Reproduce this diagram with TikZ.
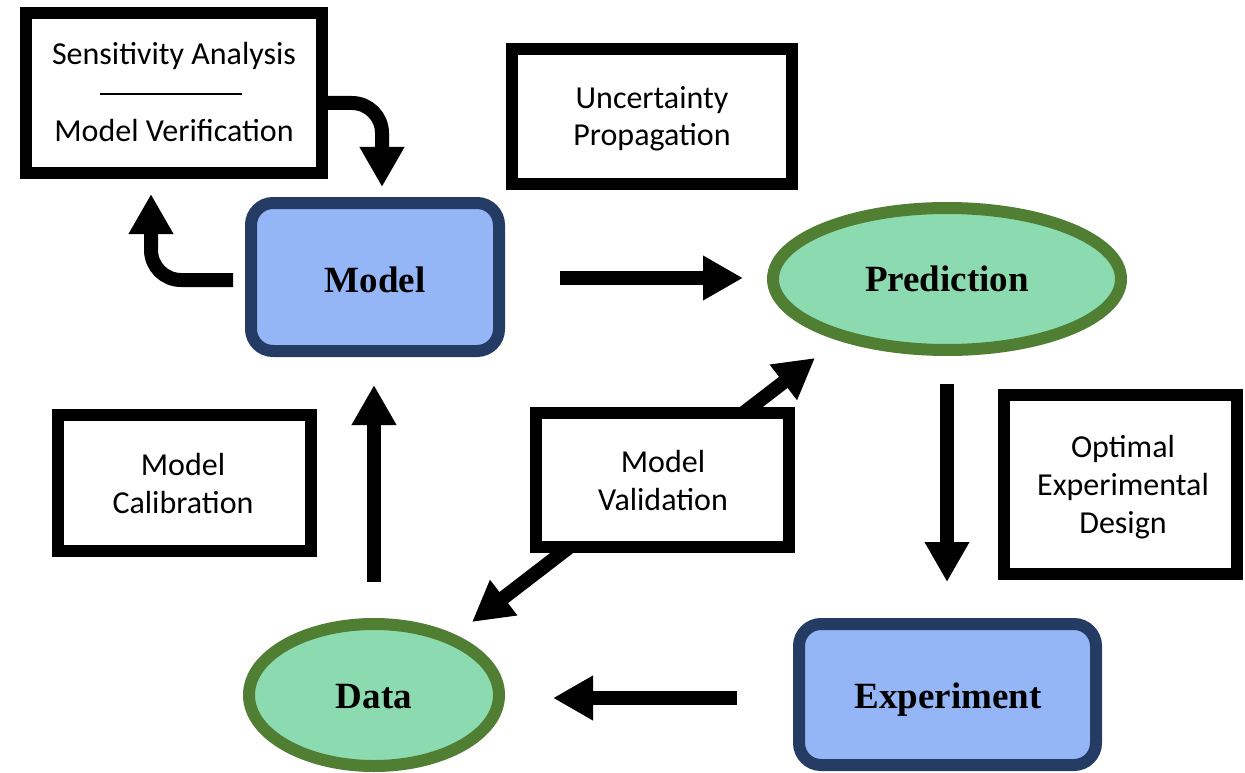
\documentclass[tikz,border=0pt]{standalone}
\usepackage{fontspec}
\setmainfont{Carlito}
\newfontfamily\boldserif{Liberation Serif}
\usetikzlibrary{arrows.meta,shapes.geometric}
\definecolor{bfill}{RGB}{148,182,247}
\definecolor{bdraw}{RGB}{36,59,100}
\definecolor{gfill}{RGB}{140,219,176}
\definecolor{gdraw}{RGB}{80,126,50}
\begin{document}
\begin{tikzpicture}[x=1pt,y=-1pt,
  plainbox/.style={draw=black,line width=12pt,fill=white,inner sep=0pt},
  bluebox/.style={draw=bdraw,fill=bfill,line width=12pt,rounded corners=22pt,inner sep=0pt},
  greenell/.style={ellipse,draw=gdraw,fill=gfill,line width=12pt,inner sep=0pt},
  lbl/.style={anchor=base,font=\fontsize{32}{38}\selectfont,inner sep=0pt},
  blbl/.style={anchor=base,font=\boldserif\bfseries\fontsize{37}{44}\selectfont,inner sep=0pt},
  bigarrow/.style={line width=14pt,-{Triangle[length=40pt,width=42pt]}},
  bigdarrow/.style={line width=14pt,{Triangle[length=40pt,width=42pt]}-{Triangle[length=40pt,width=42pt]}},
]
\useasboundingbox (0,0) rectangle (1245,773);

% coordinates for free arrow ends
\coordinate (a1s) at (560,278);  \coordinate (a1e) at (743,278);
\coordinate (a2s) at (947,384);  \coordinate (a2e) at (947,582);
\coordinate (a3s) at (737,698);  \coordinate (a3e) at (553,698);
\coordinate (a4s) at (374,582);  \coordinate (a4e) at (374,385);
\coordinate (a5s) at (472,622);  \coordinate (a5e) at (815,358);
\coordinate (a6s) at (300,103);  \coordinate (a6e) at (382,187);
\coordinate (a7s) at (233,280);  \coordinate (a7e) at (151,194);

% arrows drawn below boxes
\draw[bigdarrow] (a5s) -- (a5e);
\draw[bigarrow,rounded corners=30pt] (a6s) -| (a6e);
\draw[bigarrow,rounded corners=30pt] (a7s) -| (a7e);
\draw[bigarrow] (a1s) -- (a1e);
\draw[bigarrow] (a2s) -- (a2e);
\draw[bigarrow] (a3s) -- (a3e);
\draw[bigarrow] (a4s) -- (a4e);

% white boxes
\node[plainbox,minimum width=296pt,minimum height=160pt] (sens) at (174,93) {};
\node[lbl] (sens1) at (174,65) {Sensitivity Analysis};
\draw[line width=1.3pt] (100,94) coordinate (r1) -- (242,94) coordinate (r2);
\node[lbl] (sens2) at (174,142) {Model Verification};

\node[plainbox,minimum width=280pt,minimum height=135pt] (unc) at (652,116.5) {};
\node[lbl] (unc1) at (652,109) {Uncertainty};
\node[lbl] (unc2) at (652,146) {Propagation};

\node[plainbox,minimum width=233pt,minimum height=179pt] (opt) at (1120.5,484.5) {};
\node[lbl] (opt1) at (1123,457) {Optimal};
\node[lbl] (opt2) at (1123,495) {Experimental};
\node[lbl] (opt3) at (1123,533) {Design};

\node[plainbox,minimum width=253pt,minimum height=134pt] (val) at (662.5,480) {};
\node[lbl] (val1) at (663,472) {Model};
\node[lbl] (val2) at (663,510) {Validation};

\node[plainbox,minimum width=253pt,minimum height=136pt] (cal) at (184.5,483) {};
\node[lbl] (cal1) at (183,475) {Model};
\node[lbl] (cal2) at (183,513) {Calibration};

% main nodes
\node[bluebox,minimum width=248pt,minimum height=148pt] (model) at (375,277) {};
\node[blbl] (modelt) at (375,292) {Model};

\node[greenell,minimum width=348pt,minimum height=142pt] (pred) at (947,279) {};
\node[blbl] (predt) at (947,291) {Prediction};

\node[bluebox,minimum width=297pt,minimum height=141pt] (exp) at (947.5,694.5) {};
\node[blbl] (expt) at (948,708) {Experiment};

\node[greenell,minimum width=250pt,minimum height=142pt] (data) at (374,695) {};
\node[blbl] (datat) at (374,708) {Data};
\end{tikzpicture}
\end{document}
